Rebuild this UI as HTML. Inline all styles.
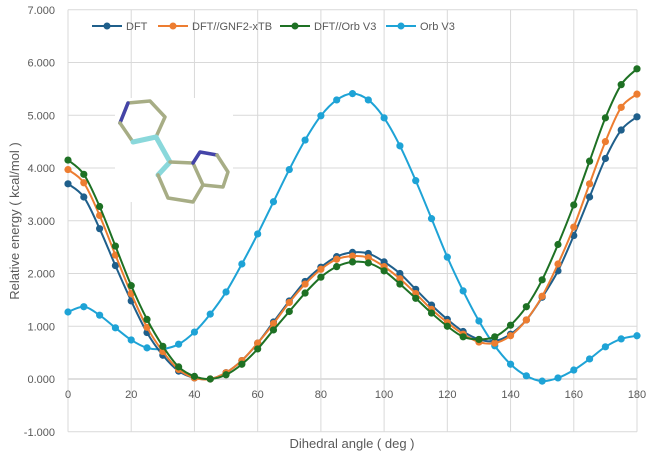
<!DOCTYPE html>
<html><head><meta charset="utf-8"><style>
body{margin:0;background:#fff;font-family:"Liberation Sans",sans-serif}
svg{display:block}
</style></head><body>
<svg id="chart" width="656" height="457" font-family="Liberation Sans, sans-serif">
<g id="grid"></g>
<g id="yticks" font-size="11" fill="#595959" text-anchor="end"></g>
<g id="xticks" font-size="11" fill="#595959" text-anchor="middle"></g>
<g fill="none" stroke-linecap="round" stroke-linejoin="round">
<rect x="115" y="98" width="118" height="104" fill="#fff" stroke="none"/>
<polyline points="133,142 156,137 165,117 150,101 128,103 120,123" stroke="#a7ad85" stroke-width="3.5"/>
<polyline points="120,123 128,103" stroke="#4444a8" stroke-width="3.5"/>
<polyline points="120,123 133,142" stroke="#a7ad85" stroke-width="3.5"/>
<polyline points="133,142 156,137 170,162 158,175" stroke="#8ad8db" stroke-width="5"/>
<polyline points="158,175 168,198 193,202 203,185 193,163 170,162" stroke="#a7ad85" stroke-width="3.5"/>
<polyline points="193,163 200,152 217,155" stroke="#4444a8" stroke-width="3.5"/>
<polyline points="217,155 228,172 223,187 203,185" stroke="#a7ad85" stroke-width="3.5"/>
</g>
<g id="series"></g>
<g font-size="11" fill="#595959">
<g><line x1="92" y1="26" x2="122" y2="26" stroke="#1f5f8b" stroke-width="2"/><circle cx="107" cy="26" r="3.5" fill="#1f5f8b"/><text x="126" y="30">DFT</text></g>
<g><line x1="158" y1="26" x2="188" y2="26" stroke="#ed7d31" stroke-width="2"/><circle cx="173" cy="26" r="3.5" fill="#ed7d31"/><text x="192" y="30">DFT//GNF2-xTB</text></g>
<g><line x1="280" y1="26" x2="310" y2="26" stroke="#1e7124" stroke-width="2"/><circle cx="295" cy="26" r="3.5" fill="#1e7124"/><text x="314" y="30">DFT//Orb V3</text></g>
<g><line x1="386" y1="26" x2="416" y2="26" stroke="#1ea3d6" stroke-width="2"/><circle cx="401" cy="26" r="3.5" fill="#1ea3d6"/><text x="420" y="30">Orb V3</text></g>
</g>
<text transform="translate(19,221) rotate(-90)" text-anchor="middle" font-size="13" fill="#595959">Relative energy ( kcal/mol )</text>
<text x="352" y="448" text-anchor="middle" font-size="13" fill="#595959">Dihedral angle ( deg )</text>
</svg>
<script>
const angles=[0,5,10,15,20,25,30,35,40,45,50,55,60,65,70,75,80,85,90,95,100,105,110,115,120,125,130,135,140,145,150,155,160,165,170,175,180];
const dft=[3.70,3.45,2.85,2.15,1.48,0.88,0.45,0.15,0.02,0.00,0.12,0.35,0.68,1.08,1.48,1.85,2.12,2.32,2.40,2.38,2.22,2.00,1.70,1.40,1.13,0.90,0.75,0.72,0.85,1.12,1.55,2.05,2.72,3.45,4.18,4.72,4.97];
const gnf2=[3.97,3.72,3.10,2.35,1.62,0.98,0.52,0.18,0.02,0.00,0.12,0.35,0.68,1.05,1.45,1.80,2.08,2.27,2.33,2.30,2.13,1.90,1.62,1.32,1.07,0.85,0.70,0.68,0.82,1.12,1.57,2.18,2.88,3.70,4.50,5.15,5.40];
const dftOrb=[4.15,3.88,3.27,2.52,1.77,1.13,0.62,0.23,0.05,0.00,0.08,0.28,0.57,0.93,1.28,1.63,1.93,2.13,2.22,2.20,2.05,1.80,1.53,1.25,1.00,0.80,0.75,0.80,1.02,1.37,1.88,2.55,3.30,4.13,4.95,5.58,5.88];
const orb=[1.27,1.37,1.21,0.97,0.74,0.59,0.57,0.66,0.89,1.23,1.65,2.18,2.75,3.36,3.97,4.53,4.99,5.29,5.41,5.29,4.95,4.42,3.76,3.04,2.31,1.67,1.10,0.63,0.28,0.06,-0.04,0.02,0.17,0.38,0.61,0.76,0.82];
const yTicks=[-1,0,1,2,3,4,5,6,7];
const xTicks=[0,20,40,60,80,100,120,140,160,180];
const NS="http://www.w3.org/2000/svg";
const X=v=>68+(v-0)/180*569;
const Y=v=>379-v*52.75;
function mk(t,a,p){const e=document.createElementNS(NS,t);for(const k in a)e.setAttribute(k,a[k]);p.appendChild(e);return e;}
const grid=document.getElementById('grid'),yt=document.getElementById('yticks'),xt=document.getElementById('xticks');
yTicks.forEach(v=>{
 const l=mk('line',{x1:68,x2:637,y1:Y(v),y2:Y(v),stroke:v===0?'#bfbfbf':'#d9d9d9','stroke-width':1},grid);
 
 
 const t=mk('text',{x:55,y:Y(v)+4},yt);t.textContent=v.toFixed(3);
 
 
});
xTicks.forEach(v=>{
 const l=mk('line',{x1:X(v),x2:X(v),y1:Y(7),y2:Y(-1),stroke:'#d9d9d9','stroke-width':1},grid);
 
 
 const t=mk('text',{x:X(v),y:Y(0)+19},xt);t.textContent=v;
 
 
});
function smooth(pts){let d=`M${pts[0][0]},${pts[0][1]}`;for(let i=0;i<pts.length-1;i++){const p0=pts[i-1]||pts[i],p1=pts[i],p2=pts[i+1],p3=pts[i+2]||p2;
 d+=` C${p1[0]+(p2[0]-p0[0])/6},${p1[1]+(p2[1]-p0[1])/6} ${p2[0]-(p3[0]-p1[0])/6},${p2[1]-(p3[1]-p1[1])/6} ${p2[0]},${p2[1]}`;}return d;}
const sg=document.getElementById('series');
[[orb,'#1ea3d6','orb-v3'],[dft,'#1f5f8b','dft'],[gnf2,'#ed7d31','dft-gnf2-xtb'],[dftOrb,'#1e7124','dft-orb-v3']].forEach(([vals,c,n])=>{
 const g=mk('g',{},sg);
 
 
 const pts=angles.map((a,i)=>[X(a),Y(vals[i])]);
 const p=mk('path',{d:smooth(pts),fill:'none',stroke:c,'stroke-width':2},g);
 
 
 pts.forEach(q=>{const m=mk('circle',{cx:q[0],cy:q[1],r:3.6,fill:c},g);
  
  });
});
</script>
</body></html>
